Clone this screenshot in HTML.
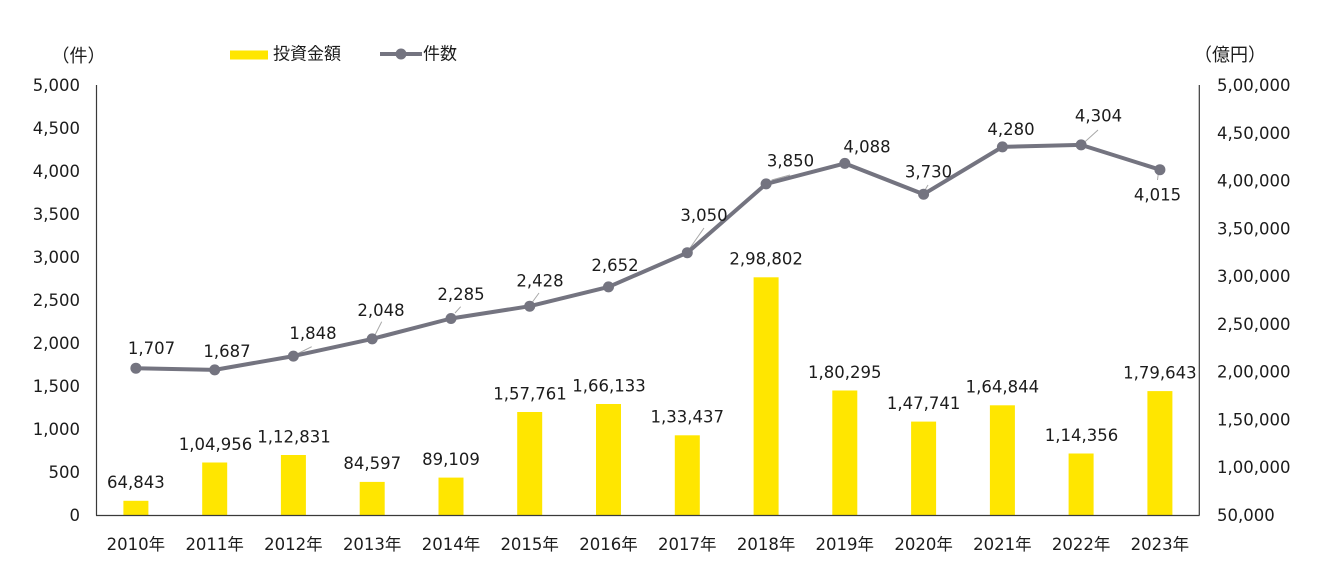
<!DOCTYPE html>
<html><head><meta charset="utf-8">
<style>
html,body{margin:0;padding:0;background:#fff;}
svg{display:block;}
text{font-family:"DejaVu Sans","Noto Sans CJK JP",sans-serif;font-size:16.5px;fill:#1c1c1c;}
.jp{font-family:"Noto Sans CJK JP","DejaVu Sans",sans-serif;}
</style></head>
<body>
<svg width="1317" height="580" viewBox="0 0 1317 580" xmlns="http://www.w3.org/2000/svg">
<rect width="1317" height="580" fill="#fff"/>
<!-- axis titles -->
<text class="jp" x="78.5" y="62" text-anchor="middle" style="font-size:18px">（件）</text>
<text class="jp" x="1230" y="61" text-anchor="middle" style="font-size:18px">（億円）</text>
<!-- legend -->
<rect x="230" y="50.5" width="38" height="9" fill="#FFE600"/>
<text class="jp" x="273" y="59.5" style="font-size:17px">投資金額</text>
<line x1="380" y1="54" x2="422" y2="54" stroke="#747480" stroke-width="4"/>
<circle cx="401" cy="54" r="5.5" fill="#747480"/>
<text class="jp" x="423" y="59.5" style="font-size:17px">件数</text>

<!-- left ticks -->
<g text-anchor="end">
<text x="80" y="521">0</text>
<text x="80" y="478">500</text>
<text x="80" y="435">1,000</text>
<text x="80" y="392">1,500</text>
<text x="80" y="349">2,000</text>
<text x="80" y="306">2,500</text>
<text x="80" y="263">3,000</text>
<text x="80" y="220">3,500</text>
<text x="80" y="177">4,000</text>
<text x="80" y="134">4,500</text>
<text x="80" y="91">5,000</text>
</g>
<!-- right ticks -->
<g text-anchor="start">
<text x="1217" y="521">50,000</text>
<text x="1217" y="473.2">1,00,000</text>
<text x="1217" y="425.4">1,50,000</text>
<text x="1217" y="377.7">2,00,000</text>
<text x="1217" y="329.9">2,50,000</text>
<text x="1217" y="282.1">3,00,000</text>
<text x="1217" y="234.3">3,50,000</text>
<text x="1217" y="186.6">4,00,000</text>
<text x="1217" y="138.8">4,50,000</text>
<text x="1217" y="91">5,00,000</text>
</g>

<!-- bars -->
<g fill="#FFE600">
<rect x="123.4" y="500.8" width="25" height="14.2"/>
<rect x="202.2" y="462.5" width="25" height="52.5"/>
<rect x="280.9" y="455.0" width="25" height="60.0"/>
<rect x="359.7" y="481.9" width="25" height="33.1"/>
<rect x="438.5" y="477.6" width="25" height="37.4"/>
<rect x="517.2" y="412.0" width="25" height="103.0"/>
<rect x="596.0" y="404.0" width="25" height="111.0"/>
<rect x="674.8" y="435.3" width="25" height="79.7"/>
<rect x="753.6" y="277.3" width="25" height="237.7"/>
<rect x="832.3" y="390.5" width="25" height="124.5"/>
<rect x="911.1" y="421.6" width="25" height="93.4"/>
<rect x="989.9" y="405.3" width="25" height="109.7"/>
<rect x="1068.6" y="453.5" width="25" height="61.5"/>
<rect x="1147.4" y="391.1" width="25" height="123.9"/>
</g>

<!-- axes -->
<g stroke="#3a3a3a" stroke-width="1.2" fill="none">
<line x1="96.5" y1="85" x2="96.5" y2="515.5"/>
<line x1="96" y1="515.5" x2="1199.5" y2="515.5"/>
<line x1="1199.3" y1="85" x2="1199.3" y2="515.5"/>
</g>

<!-- bar labels -->
<g text-anchor="middle">
<text x="135.9" y="488.1">64,843</text>
<text x="215.5" y="449.8">1,04,956</text>
<text x="294" y="442.3">1,12,831</text>
<text x="372.2" y="469.2">84,597</text>
<text x="451.0" y="464.9">89,109</text>
<text x="530" y="399.3">1,57,761</text>
<text x="609" y="391.3">1,66,133</text>
<text x="687.3" y="422.6">1,33,437</text>
<text x="766.1" y="264.6">2,98,802</text>
<text x="844.8" y="377.8">1,80,295</text>
<text x="923.6" y="408.9">1,47,741</text>
<text x="1002.4" y="392.6">1,64,844</text>
<text x="1081.5" y="440.8">1,14,356</text>
<text x="1159.9" y="378.4">1,79,643</text>
</g>

<!-- leader lines -->
<g stroke="#a8a8a8" stroke-width="1" fill="none">
<line x1="297" y1="354" x2="311.7" y2="346.7"/>
<line x1="375" y1="335" x2="381.7" y2="321.7"/>
<line x1="455" y1="313" x2="460.7" y2="306.7"/>
<line x1="531.7" y1="303" x2="539" y2="293"/>
<line x1="690" y1="248" x2="704" y2="228"/>
<line x1="771.7" y1="180" x2="790" y2="175"/>
<line x1="925" y1="190" x2="928" y2="185"/>
<line x1="1085" y1="141.7" x2="1098" y2="130"/>
<line x1="1158.5" y1="172" x2="1157.5" y2="180"/>
</g>

<!-- line series -->
<polyline fill="none" stroke="#747480" stroke-width="4" stroke-linejoin="round"
points="135.9,368.2 214.7,369.9 293.4,356.1 372.2,338.9 451.0,318.5 529.7,306.2 608.5,286.9 687.3,252.7 766.1,183.9 844.8,163.4 923.6,194.2 1002.4,146.9 1081.1,144.9 1159.9,169.7"/>
<g fill="#747480">
<circle cx="135.9" cy="368.2" r="5.5"/>
<circle cx="214.7" cy="369.9" r="5.5"/>
<circle cx="293.4" cy="356.1" r="5.5"/>
<circle cx="372.2" cy="338.9" r="5.5"/>
<circle cx="451.0" cy="318.5" r="5.5"/>
<circle cx="529.7" cy="306.2" r="5.5"/>
<circle cx="608.5" cy="286.9" r="5.5"/>
<circle cx="687.3" cy="252.7" r="5.5"/>
<circle cx="766.1" cy="183.9" r="5.5"/>
<circle cx="844.8" cy="163.4" r="5.5"/>
<circle cx="923.6" cy="194.2" r="5.5"/>
<circle cx="1002.4" cy="146.9" r="5.5"/>
<circle cx="1081.1" cy="144.9" r="5.5"/>
<circle cx="1159.9" cy="169.7" r="5.5"/>
</g>

<!-- line labels -->
<g text-anchor="middle">
<text x="151.5" y="354">1,707</text>
<text x="227" y="357">1,687</text>
<text x="313" y="339">1,848</text>
<text x="381" y="316">2,048</text>
<text x="461" y="300">2,285</text>
<text x="540" y="286.7">2,428</text>
<text x="615" y="271">2,652</text>
<text x="704" y="221">3,050</text>
<text x="790.5" y="166.7">3,850</text>
<text x="867" y="152.7">4,088</text>
<text x="928.5" y="177.7">3,730</text>
<text x="1011" y="135">4,280</text>
<text x="1098.5" y="121.7">4,304</text>
<text x="1157.5" y="200.3">4,015</text>
</g>

<!-- x labels -->
<g text-anchor="middle">
<text x="135.9" y="550">2010年</text>
<text x="214.7" y="550">2011年</text>
<text x="293.4" y="550">2012年</text>
<text x="372.2" y="550">2013年</text>
<text x="451.0" y="550">2014年</text>
<text x="529.7" y="550">2015年</text>
<text x="608.5" y="550">2016年</text>
<text x="687.3" y="550">2017年</text>
<text x="766.1" y="550">2018年</text>
<text x="844.8" y="550">2019年</text>
<text x="923.6" y="550">2020年</text>
<text x="1002.4" y="550">2021年</text>
<text x="1081.1" y="550">2022年</text>
<text x="1159.9" y="550">2023年</text>
</g>
</svg>
</body></html>
